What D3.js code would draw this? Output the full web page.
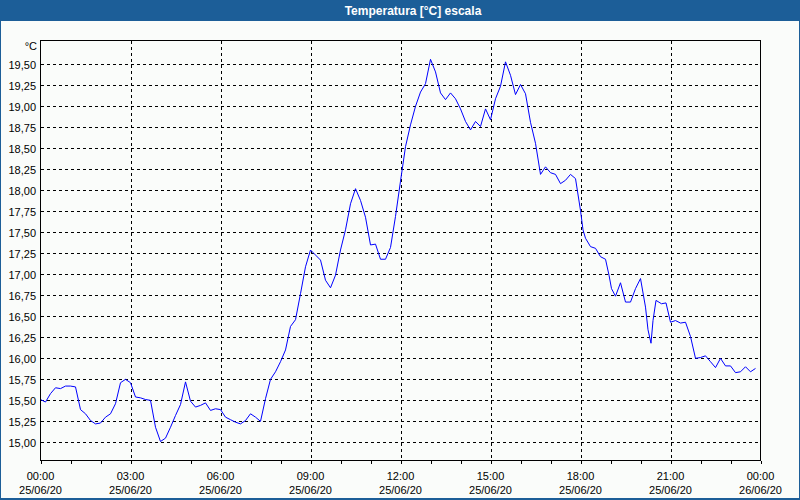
<!DOCTYPE html>
<html>
<head>
<meta charset="utf-8">
<script src="https://cdn.jsdelivr.net/npm/d3@7/dist/d3.min.js"></script>
<style>
  html, body { margin: 0; padding: 0; background: #ffffff; }
  svg { display: block; }
  text { font-family: "Liberation Sans", Arial, sans-serif; }
</style>
</head>
<body>
<svg id="chart" width="800" height="500"></svg>
<script>
// ---- data (minutes since 25/06/20 00:00, temperature °C) ----
const title = "Temperatura [°C] escala";
const unitLabel = "°C";
const minutes = [
  0,10,20,30,40,50,60,70,80,90,100,110,120,130,140,150,160,170,180,190,
  200,210,220,230,240,250,260,270,280,290,300,310,320,330,340,350,360,370,380,390,
  400,410,420,430,440,450,460,470,480,490,500,510,520,530,540,550,560,570,580,590,
  600,610,620,630,640,650,660,670,680,690,700,710,720,730,740,750,760,770,780,790,
  800,810,820,830,840,850,860,870,880,890,900,910,920,930,940,950,960,970,980,990,
  1000,1010,1020,1030,1040,1050,1060,1070,1080,1085,1090,1100,1110,1120,1130,1137,1142,1150,1160,1170,
  1180,1190,1200,1210,1215,1221,1225,1231,1242,1251,1260,1270,1280,1290,1300,1310,1320,1330,1340,1350,
  1360,1370,1380,1390,1400,1410,1420,1430
];
const temperatures = [
  15.50,15.47,15.57,15.64,15.63,15.66,15.66,15.65,15.38,15.33,15.25,15.21,15.22,15.29,15.33,15.45,15.70,15.74,15.70,15.53,
  15.52,15.50,15.49,15.17,15.00,15.04,15.17,15.31,15.44,15.71,15.48,15.41,15.43,15.46,15.37,15.39,15.38,15.29,15.26,15.23,
  15.21,15.25,15.33,15.29,15.24,15.51,15.74,15.83,15.95,16.09,16.37,16.45,16.76,17.08,17.28,17.22,17.16,16.92,16.83,16.98,
  17.28,17.52,17.83,18.01,17.87,17.67,17.34,17.35,17.17,17.17,17.31,17.68,18.10,18.51,18.77,18.99,19.16,19.26,19.55,19.40,
  19.15,19.07,19.15,19.08,18.96,18.81,18.71,18.81,18.75,18.96,18.83,19.08,19.23,19.52,19.36,19.13,19.25,19.14,18.80,18.55,
  18.18,18.27,18.20,18.18,18.07,18.11,18.18,18.13,17.75,17.52,17.42,17.32,17.30,17.20,17.17,16.98,16.82,16.73,16.89,16.66,
  16.66,16.82,16.94,16.60,16.33,16.17,16.44,16.68,16.64,16.65,16.42,16.44,16.41,16.42,16.25,15.99,16.00,16.02,15.95,15.88,
  15.99,15.90,15.90,15.82,15.83,15.89,15.83,15.87
];
const yTicks = [15.00,15.25,15.50,15.75,16.00,16.25,16.50,16.75,17.00,17.25,17.50,17.75,18.00,18.25,18.50,18.75,19.00,19.25,19.50];
const xTickMinutes = [0,180,360,540,720,900,1080,1260,1440];
const xTickTimes = ["00:00","03:00","06:00","09:00","12:00","15:00","18:00","21:00","00:00"];
const xTickDates = ["25/06/20","25/06/20","25/06/20","25/06/20","25/06/20","25/06/20","25/06/20","25/06/20","26/06/20"];
const hourMinutes = d3.range(0, 1441, 60);
const yDomain = [14.774, 19.774];

// ---- layout ----
const W = 800, H = 500;
const plot = { left: 40.5, top: 40.5, right: 760.5, bottom: 460.5 };
const frameBlue = "#1c5e98";
const bg = "#fafcfa";

const svg = d3.select("#chart");

// window frame
svg.append("rect").attr("x",0).attr("y",0).attr("width",W).attr("height",H).attr("fill",frameBlue);
svg.append("rect").attr("x",1).attr("y",21).attr("width",W-2).attr("height",H-23).attr("fill",bg);
svg.append("text").attr("x",413).attr("y",15).attr("text-anchor","middle")
  .attr("fill","#ffffff").attr("font-weight","bold").attr("font-size","12px").text(title);

const x = d3.scaleLinear().domain([0,1440]).range([plot.left, plot.right]);
const y = d3.scaleLinear().domain(yDomain).range([plot.bottom, plot.top]);

const fmt = v => d3.format(".2f")(v).replace(".", ",");

// horizontal gridlines
svg.append("g").selectAll("line").data(yTicks).join("line")
  .attr("x1", plot.left).attr("x2", plot.right)
  .attr("y1", d => Math.round(y(d)) + 0.5).attr("y2", d => Math.round(y(d)) + 0.5)
  .attr("stroke","#000").attr("stroke-width",1).attr("stroke-dasharray","3,3")
  .attr("shape-rendering","crispEdges");

// vertical gridlines
svg.append("g").selectAll("line").data(xTickMinutes.slice(1,-1)).join("line")
  .attr("x1", d => Math.round(x(d)) + 0.5).attr("x2", d => Math.round(x(d)) + 0.5)
  .attr("y1", plot.top).attr("y2", plot.bottom)
  .attr("stroke","#000").attr("stroke-width",1).attr("stroke-dasharray","3,3")
  .attr("shape-rendering","crispEdges");

// y labels
svg.append("g").selectAll("text").data(yTicks).join("text")
  .attr("x", 36).attr("y", d => Math.round(y(d)) + 4.5)
  .attr("text-anchor","end").attr("font-size","11px").attr("fill","#000")
  .text(fmt);
svg.append("text").attr("x",37).attr("y",50).attr("text-anchor","end")
  .attr("font-size","11px").attr("fill","#000").text(unitLabel);

// hourly ticks on the bottom axis
svg.append("g").selectAll("line").data(hourMinutes).join("line")
  .attr("x1", d => Math.round(x(d)) + 0.5).attr("x2", d => Math.round(x(d)) + 0.5)
  .attr("y1", plot.bottom).attr("y2", plot.bottom + 3)
  .attr("stroke","#000").attr("shape-rendering","crispEdges");

// x labels
const xl = svg.append("g").selectAll("g").data(xTickMinutes).join("g");
xl.append("text").attr("x", d => x(d)).attr("y", 479.5).attr("text-anchor","middle")
  .attr("font-size","11px").attr("fill","#000").text((d,i) => xTickTimes[i]);
xl.append("text").attr("x", d => x(d)).attr("y", 494).attr("text-anchor","middle")
  .attr("font-size","11px").attr("fill","#000").text((d,i) => xTickDates[i]);

// data line
const pts = minutes.map((m,i) => [m, temperatures[i]]);
const line = d3.line().x(d => x(d[0])).y(d => y(d[1]));
svg.append("path").datum(pts).attr("d", line)
  .attr("fill","none").attr("stroke","#0000ff").attr("stroke-width",1);

// plot frame
svg.append("rect").attr("x",plot.left).attr("y",plot.top)
  .attr("width",plot.right-plot.left).attr("height",plot.bottom-plot.top)
  .attr("fill","none").attr("stroke","#000").attr("shape-rendering","crispEdges");
</script>
</body>
</html>
